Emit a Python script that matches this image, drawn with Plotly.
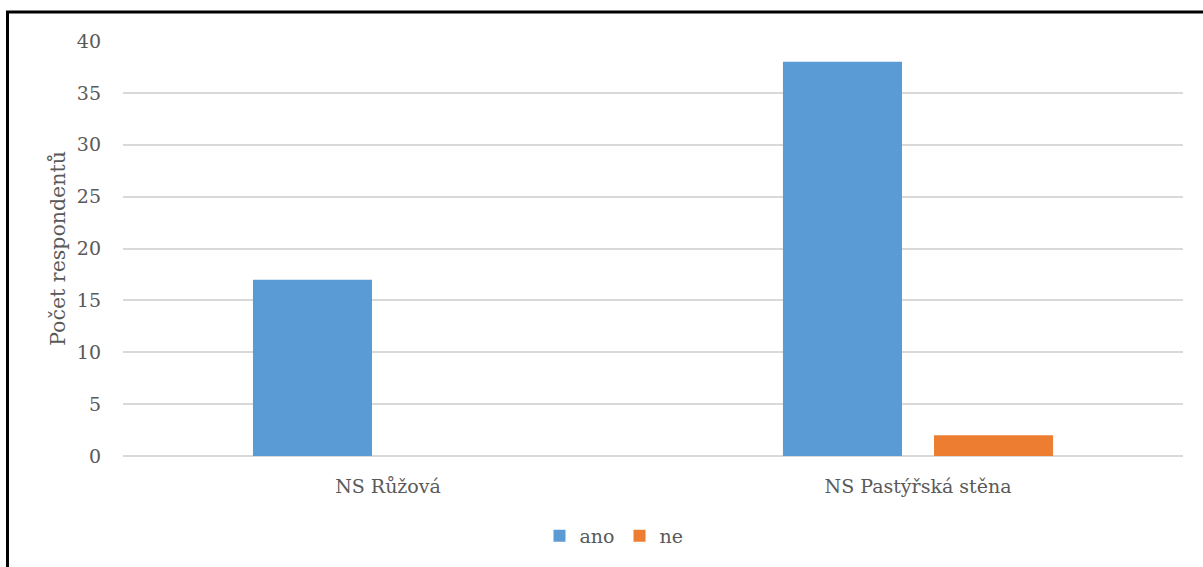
import plotly.graph_objects as go

categories = ["NS Růžová", "NS Pastýřská stěna"]
ano = [17, 38]
ne = [0, 2]
y_ticks = [0, 5, 10, 15, 20, 25, 30, 35, 40]

W, H = 1203, 567
L, R, T, B = 123, 20, 41, 111
pw = W - L - R
ph = H - T - B

FAM = "DejaVu Serif"
font = dict(family=FAM, size=19, color="#595959")
title_font = dict(family=FAM, size=20.5, color="#595959")

fig = go.Figure()
fig.add_trace(go.Bar(name="ano", x=categories, y=ano, marker=dict(color="#5B9BD5", line=dict(width=0))))
fig.add_trace(go.Bar(name="ne", x=categories, y=ne, marker=dict(color="#ED7D31", line=dict(width=0))))

def px_x(x):
    return (x - L) / pw

def px_y(y):
    return (H - B - y) / ph

fig.update_layout(
    width=W, height=H,
    margin=dict(l=L, r=R, t=T, b=B),
    paper_bgcolor="white", plot_bgcolor="white",
    font=font,
    barmode="group", bargap=0.43, bargroupgap=0.212,
    showlegend=True,
    legend=dict(orientation="h", x=px_x(614), xanchor="center", y=px_y(536), yanchor="middle",
                font=font, itemwidth=30, tracegroupgap=0, bgcolor="rgba(0,0,0,0)"),
    xaxis=dict(showgrid=False, showline=False, ticks="", tickfont=font, ticklabelstandoff=17),
    yaxis=dict(range=[0, 40], tickvals=y_ticks, showgrid=True, gridcolor="#D9D9D9", gridwidth=1.5,
               zeroline=True, zerolinecolor="#D9D9D9", zerolinewidth=1.5, showline=False,
               ticks="", tickfont=font, ticklabelstandoff=21,
               title=dict(text="Počet respondentů", font=title_font, standoff=5)),
    shapes=[dict(type="rect", xref="paper", yref="paper",
                 x0=px_x(7.5), x1=px_x(1215), y0=px_y(12), y1=px_y(580),
                 line=dict(color="black", width=3), fillcolor="rgba(0,0,0,0)", layer="above")],
)

fig.write_html("out.html")
